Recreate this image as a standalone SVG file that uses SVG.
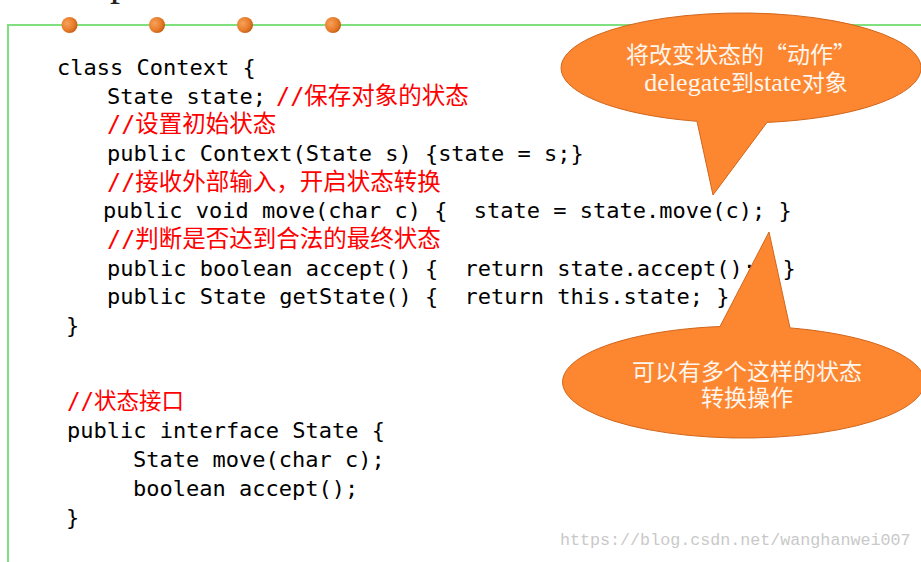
<svg xmlns="http://www.w3.org/2000/svg" width="921" height="562" viewBox="0 0 921 562">
  <defs>
    <radialGradient id="dotGrad" cx="0.35" cy="0.4" r="0.75">
      <stop offset="0" stop-color="#f7a25a"/>
      <stop offset="0.6" stop-color="#e77a28"/>
      <stop offset="1" stop-color="#b2520f"/>
    </radialGradient>
    <style>
      text { white-space: pre; }
      .code { font-family: "DejaVu Sans Mono", "Liberation Mono", monospace; font-size: 22px; fill: #000; }
      .cmt { font-family: "DejaVu Sans Mono", "Noto Sans CJK SC", monospace; font-size: 23.5px; fill: #ff0000; }
      .bubble { fill: #fd8630; stroke: #d0661c; stroke-width: 1; }
      .btext { font-family: "Liberation Serif", "Noto Sans CJK SC", serif; font-size: 23px; fill: #fdf6ee; text-anchor: middle; }
      .q { font-family: "Noto Sans CJK SC", sans-serif; font-feature-settings: "fwid" 1; }
      .dot { fill: url(#dotGrad); }
      .frame { stroke: #80e080; stroke-width: 2; fill: none; }
    </style>
  </defs>
  <rect x="0" y="0" width="921" height="562" fill="#ffffff"/>

  <text x="110" y="-5.5" font-family="Liberation Serif, serif" font-size="40" fill="#222">p</text>

  <g id="frame">
    <path class="frame" d="M8,562 V25 H921"/>
    <circle class="dot" cx="69.5" cy="25" r="8"/>
    <circle class="dot" cx="157" cy="25" r="8"/>
    <circle class="dot" cx="245" cy="25" r="8"/>
    <circle class="dot" cx="333" cy="25" r="8"/>
  </g>

  <g id="context-class">
    <text class="code" x="57" y="75">class Context {</text>
    <text class="code" x="107" y="104">State state;</text>
    <text class="cmt" x="276" y="104">//保存对象的状态</text>
    <text class="cmt" x="107" y="132">//设置初始状态</text>
    <text class="code" x="107" y="161">public Context(State s) {state = s;}</text>
    <text class="cmt" x="107" y="190">//接收外部输入，开启状态转换</text>
    <text class="code" x="103" y="218" xml:space="preserve">public void move(char c) {  state = state.move(c); }</text>
    <text class="cmt" x="107" y="247">//判断是否达到合法的最终状态</text>
    <text class="code" x="107" y="276" xml:space="preserve">public boolean accept() {  return state.accept();  }</text>
    <text class="code" x="107" y="304" xml:space="preserve">public State getState() {  return this.state; }</text>
    <text class="code" x="66" y="333">}</text>
  </g>

  <g id="state-interface">
    <text class="cmt" x="67" y="409" style="font-size:22.5px">//状态接口</text>
    <text class="code" x="67" y="438">public interface State {</text>
    <text class="code" x="133" y="467">State move(char c);</text>
    <text class="code" x="133" y="496">boolean accept();</text>
    <text class="code" x="66" y="525">}</text>
  </g>

  <g id="callout-delegate">
    <path class="bubble" d="M697,121.3 A180,55 0 1 1 767,122.4 L713,195 Z"/>
    <text class="btext" x="741" y="63">将改变状态的<tspan class="q">“</tspan>动作<tspan class="q">”</tspan></text>
    <text class="btext" x="746" y="91"><tspan style="font-size:26px">delegate</tspan>到<tspan style="font-size:26px">state</tspan>对象</text>
  </g>

  <g id="callout-multiple">
    <path class="bubble" d="M790,327.9 A181,56 0 1 1 720,326.5 L769,232 Z"/>
    <text class="btext" x="747" y="380">可以有多个这样的状态</text>
    <text class="btext" x="747" y="406">转换操作</text>
  </g>

  <text id="watermark" x="560" y="545" font-family="Liberation Mono, monospace" font-size="16.7" fill="#c9c9c9">https://blog.csdn.net/wanghanwei007</text>
</svg>
